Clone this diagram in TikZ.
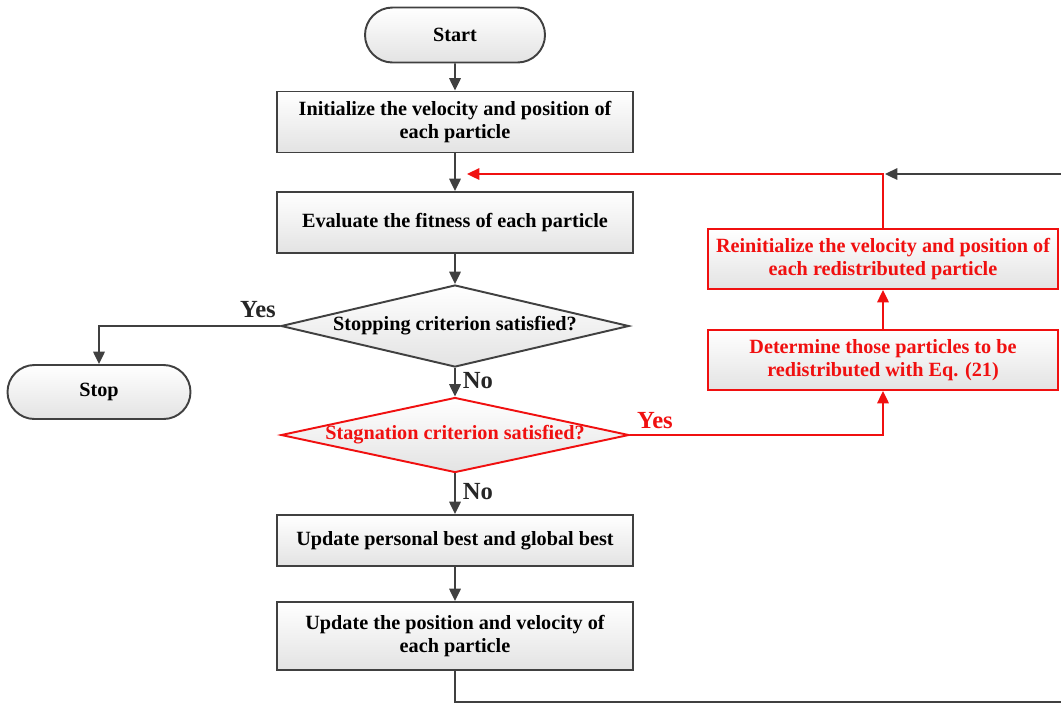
\documentclass[tikz,border=0pt]{standalone}
\usepackage{fontspec}
\setmainfont{Liberation Serif}
\usetikzlibrary{shapes.geometric,shapes.misc,arrows.meta}
\definecolor{lc}{HTML}{404040}
\definecolor{rc}{HTML}{F01010}
\tikzset{
  base/.style={line width=1.1pt, top color=white, bottom color=gray!22, align=center,
    font=\bfseries\fontsize{11.5pt}{13pt}\selectfont, inner sep=0pt},
  procbox/.style={base, draw=lc, rectangle, minimum width=7.12cm, minimum height=1.22cm},
  redbox/.style={base, draw=rc, text=rc, rectangle, minimum width=7.0cm, minimum height=1.2cm},
  term/.style={base, draw=lc, rounded rectangle, minimum width=3.6cm, minimum height=1.1cm},
  decide/.style={base, draw=lc, diamond, aspect=4.24, minimum width=6.96cm, minimum height=1.64cm},
  reddecide/.style={base, draw=rc, text=rc, diamond, aspect=4.64, minimum width=6.96cm, minimum height=1.5cm},
  conn/.style={line width=1.1pt, draw=lc, -{Triangle[length=7pt,width=6.5pt]}},
  rconn/.style={line width=1.1pt, draw=rc, -{Triangle[length=7pt,width=6.5pt]}},
  lbl/.style={font=\bfseries\fontsize{14pt}{16pt}\selectfont, inner sep=0pt},
}
\begin{document}
\begin{tikzpicture}
\useasboundingbox (0,0) rectangle (21.22,-14.22);
\node[term] (start) at (9.10,-0.70) {Start};
\node[procbox] (init) at (9.10,-2.44) {Initialize the velocity and position of\\each particle};
\node[procbox] (eval) at (9.10,-4.45) {Evaluate the fitness of each particle};
\node[decide] (stopq) at (9.10,-6.52) {Stopping criterion satisfied?};
\node[term, minimum width=3.66cm, minimum height=1.08cm] (stop) at (1.98,-7.84) {Stop};
\node[reddecide] (stagq) at (9.10,-8.70) {Stagnation criterion satisfied?};
\node[redbox] (det) at (17.66,-7.20) {Determine those particles to be\\redistributed with Eq. (21)};
\node[redbox] (reinit) at (17.66,-5.18) {Reinitialize the velocity and position of\\each redistributed particle};
\node[procbox, minimum height=1.02cm] (upbest) at (9.10,-10.81) {Update personal best and global best};
\node[procbox, minimum height=1.36cm] (uppos) at (9.10,-12.72) {Update the position and velocity of\\each particle};

\coordinate (rtip) at (9.34,-3.48);
\coordinate (jtop) at (17.70,-3.48);
\coordinate (cbr) at (21.6,-14.04);
\coordinate (ctr) at (21.6,-3.48);

\draw[conn] (start) -- (init);
\draw[conn] (init) -- (eval);
\draw[conn] (eval) -- (stopq);
\draw[conn] (stopq.west) -| (stop.north);
\draw[conn] (stopq) -- (stagq);
\draw[rconn] (stagq.east) -| (det.south);
\draw[rconn] (det) -- (reinit);
\draw[rconn] (reinit.north) |- (rtip);
\draw[conn] (stagq) -- (upbest);
\draw[conn] (upbest) -- (uppos);
\draw[conn] (uppos.south) |- (cbr) -- (ctr) -- (jtop);

\node[lbl, text=black!85] at (5.16,-6.20) {Yes};
\node[lbl, text=black!85] at (9.56,-7.62) {No};
\node[lbl, text=rc] at (13.10,-8.42) {Yes};
\node[lbl, text=black!85] at (9.56,-9.84) {No};
\end{tikzpicture}
\end{document}
